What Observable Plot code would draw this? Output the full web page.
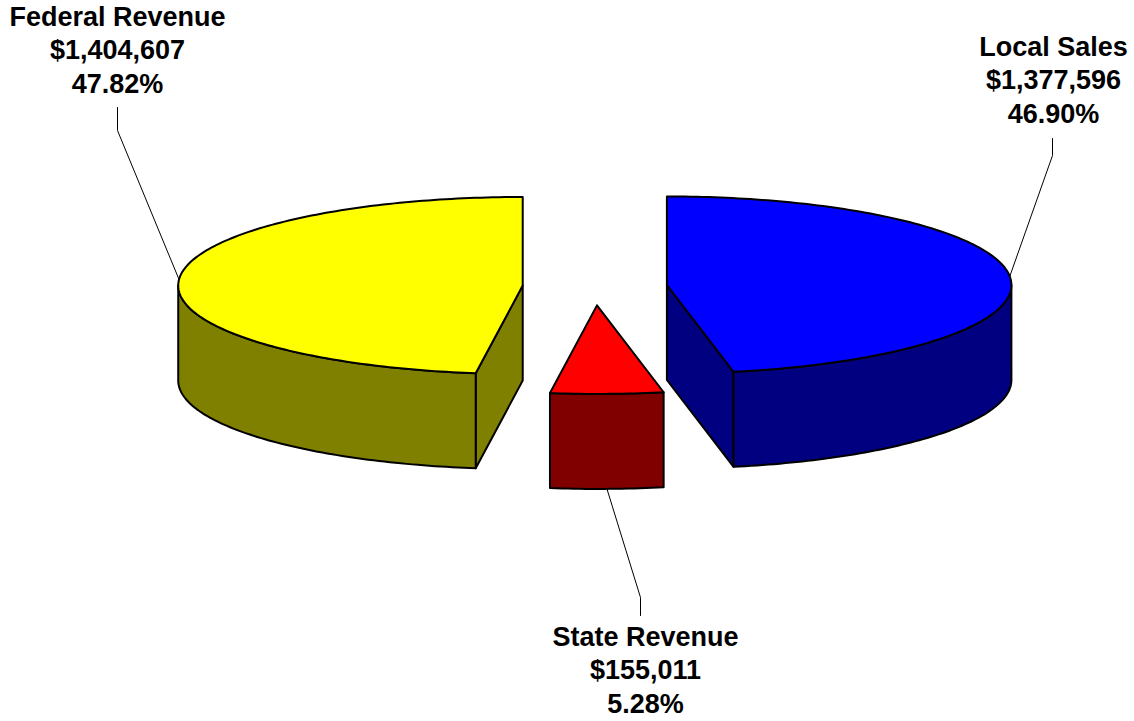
<!DOCTYPE html>
<html><head><meta charset="utf-8">
<script src="https://cdn.jsdelivr.net/npm/d3@7"></script>
<script src="https://cdn.jsdelivr.net/npm/@observablehq/plot@0.6"></script>
<style>html,body{margin:0;padding:0;background:#fff;overflow:hidden}</style>
</head><body><div id="chart"></div>
<script>
// ---- data ----
const categories = ["Local Sales", "State Revenue", "Federal Revenue"];
const values = [1377596, 155011, 1404607];
const topColors = ["#0000FF", "#FF0000", "#FFFF00"];
const sideColors = ["#000080", "#800000", "#808000"];

// ---- layout (pixels) ----
const W = 1134, H = 721;
const CX = 594.4, CY = 286.3, R = 344.5;
const TILT = 0.257, DEPTH = 95 / R, EXPLODE = 0.21;
const labelLayout = [
  {knee: [1052, 155], end: [1052, 138], text: [1053, 31.5]},
  {knee: [640, 597], end: [640, 615], text: [645, 621.5]},
  {knee: [117, 130], end: [117, 107], text: [117, 1.5]}
];
const FONT = "'Liberation Sans', Arial, sans-serif";

const toU = px => (px - CX) / R;
const toV = py => (py - CY) / R;

// ---- geometry from data ----
const total = d3.sum(values);
let acc = 0;
const slices = values.map((v, i) => {
  const a0 = acc / total * 360; acc += v; const a1 = acc / total * 360;
  const mid = (a0 + a1) / 2, r = mid * Math.PI / 180;
  return {i, name: categories[i], value: v, pct: v / total, a0, a1, mid,
    cu: EXPLODE * Math.sin(r), cv: -EXPLODE * TILT * Math.cos(r)};
});
const rad = d => d * Math.PI / 180;
const pt = (s, deg, dz = 0) => [s.cu + Math.sin(rad(deg)), s.cv - TILT * Math.cos(rad(deg)) + dz];
const arc = (s, a, b, dz = 0) => {
  const n = Math.max(2, Math.ceil(Math.abs(b - a)));
  return d3.range(n + 1).map(k => pt(s, a + (b - a) * k / n, dz));
};
const close = pts => [...pts, pts[0]];

const sideFaces = [], topFaces = [];
for (const s of slices) {
  const c = [s.cu, s.cv], cb = [s.cu, s.cv + DEPTH];
  if (Math.sin(rad(s.a0)) < -1e-6) sideFaces.push({fill: sideColors[s.i], pts: close([c, pt(s, s.a0), pt(s, s.a0, DEPTH), cb])});
  if (Math.sin(rad(s.a1)) > 1e-6) sideFaces.push({fill: sideColors[s.i], pts: close([c, pt(s, s.a1), pt(s, s.a1, DEPTH), cb])});
  const lo = Math.max(s.a0, 90), hi = Math.min(s.a1, 270);
  if (hi > lo) sideFaces.push({fill: sideColors[s.i], pts: close([...arc(s, lo, hi), ...arc(s, hi, lo, DEPTH)])});
  topFaces.push({fill: topColors[s.i], pts: close([c, ...arc(s, s.a0, s.a1)])});
}

const leaders = slices.map(s => {
  const front = Math.cos(rad(s.mid)) < 0;
  const L = labelLayout[s.i];
  return [pt(s, s.mid, front ? DEPTH : 0), [toU(L.knee[0]), toV(L.knee[1])], [toU(L.end[0]), toV(L.end[1])]];
});

const fmt = d3.format(",");
const labelText = s => `${s.name}\n$${fmt(s.value)}\n${(s.pct * 100).toFixed(2)}%`;

const faceMark = f => Plot.line(f.pts, {x: d => d[0], y: d => d[1], fill: f.fill, stroke: "black",
  strokeWidth: 2, strokeLinejoin: "round", curve: "linear"});

const chart = Plot.plot({
  width: W, height: H, margin: 0,
  x: {domain: [toU(0), toU(W)], range: [0, W], axis: null},
  y: {domain: [toV(0), toV(H)], range: [0, H], axis: null},
  marks: [
    ...leaders.map(l => Plot.line(l, {x: d => d[0], y: d => d[1], stroke: "#000", strokeWidth: 1})),
    ...sideFaces.map(faceMark),
    ...topFaces.map(faceMark),
    Plot.text(slices, {
      x: s => toU(labelLayout[s.i].text[0]), y: s => toV(labelLayout[s.i].text[1]),
      text: labelText, lineAnchor: "top", lineHeight: 1.24, textAnchor: "middle",
      fontSize: 27, fontWeight: "bold", fontFamily: FONT, fill: "black"
    })
  ]
});
document.getElementById("chart").appendChild(chart);
</script>
</body></html>
